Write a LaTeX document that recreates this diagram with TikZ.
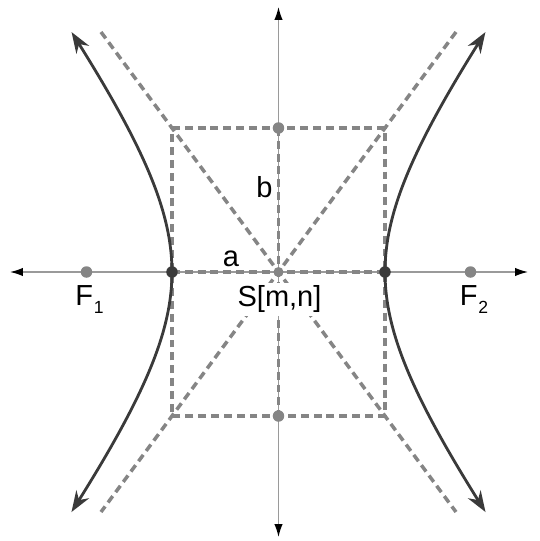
\documentclass[tikz,border=0pt]{standalone}
\usepackage{fontspec}
\setmainfont{Liberation Sans}
\usetikzlibrary{arrows.meta}

\definecolor{courbe}{HTML}{3A3A3A}
\definecolor{tirets}{HTML}{858585}
\definecolor{axe}{HTML}{9A9A9A}

\newcommand{\indice}[1]{\kern0.5pt\raisebox{-0.55ex}{\fontsize{10}{10}\selectfont #1}}

\tikzset{
  axis/.style={draw=axe, line width=0.8pt,
    {Latex[length=2.6mm,width=1.7mm,color=black]}-{Latex[length=2.6mm,width=1.7mm,color=black]}},
  tiret/.style={draw=tirets, line width=2pt, dash pattern=on 4.5pt off 2.8pt},
  branche/.style={draw=courbe, line width=1.6pt,
    {Stealth[length=4.2mm,width=3mm]}-{Stealth[length=4.2mm,width=3mm]}},
  pt/.style={circle, fill=#1, inner sep=0pt, minimum size=2.3mm},
  lab/.style={font=\fontsize{16.5}{18}\selectfont, inner sep=1pt}
}

\begin{document}
\begin{tikzpicture}
  \useasboundingbox (-5.57,-5.38) rectangle (5.21,5.44);

  % Points
  \coordinate (S) at (0,0);
  \coordinate (A1) at (-2.13,0);
  \coordinate (A2) at (2.13,0);
  \coordinate (B1) at (0,2.88);
  \coordinate (B2) at (0,-2.88);
  \coordinate (NW) at (-2.13,2.88);
  \coordinate (NE) at (2.13,2.88);
  \coordinate (SE) at (2.13,-2.88);
  \coordinate (SW) at (-2.13,-2.88);

  % Axes
  \coordinate (xg) at (-5.37,0);
  \coordinate (xd) at (4.99,0);
  \coordinate (yb) at (0,-5.30);
  \coordinate (yh) at (0,5.30);
  \draw[axis] (xg) -- (xd);
  \draw[axis] (yb) -- (yh);

  % Rectangle et asymptotes
  \draw[tiret] (NW) -- (NE) -- (SE) -- (SW) -- cycle;
  \draw[tiret] (A1) -- (A2);
  \draw[tiret] (B1) -- (B2);
  \foreach \s/\nom in {1/as1,-1/as2} {
    \coordinate (\nom h) at (-3.55*\s,4.8);
    \coordinate (\nom b) at (3.55*\s,-4.8);
    \draw[tiret] (\nom h) -- (\nom b);
  }

  % Branches
  \draw[branche] plot[domain=-1.284:1.284, samples=60, smooth] ({-2.13*cosh(\x)},{2.88*sinh(\x)});
  \draw[branche] plot[domain=-1.284:1.284, samples=60, smooth] ({2.13*cosh(\x)},{2.88*sinh(\x)});

  % Textes
  \node[lab] (la) at (-0.95,0.27) {a};
  \node[lab] (lb) at (-0.28,1.70) {b};
  \node[lab, fill=white, inner xsep=2pt, inner ysep=1.5pt] (lS) at (0.02,-0.55) {S[m,n]};
  \node[lab] (lF1) at (-3.78,-0.55) {F\indice{1}};
  \node[lab] (lF2) at (3.91,-0.55) {F\indice{2}};

  % Sommets, foyers, centre
  \node[pt=courbe] (sA1) at (A1) {};
  \node[pt=courbe] (sA2) at (A2) {};
  \node[pt=tirets] (sB1) at (B1) {};
  \node[pt=tirets] (sB2) at (B2) {};
  \node[pt=tirets, minimum size=2mm] (sS) at (S) {};
  \node[pt=tirets] (F1) at (-3.84,0) {};
  \node[pt=tirets] (F2) at (3.84,0) {};
\end{tikzpicture}
\end{document}
